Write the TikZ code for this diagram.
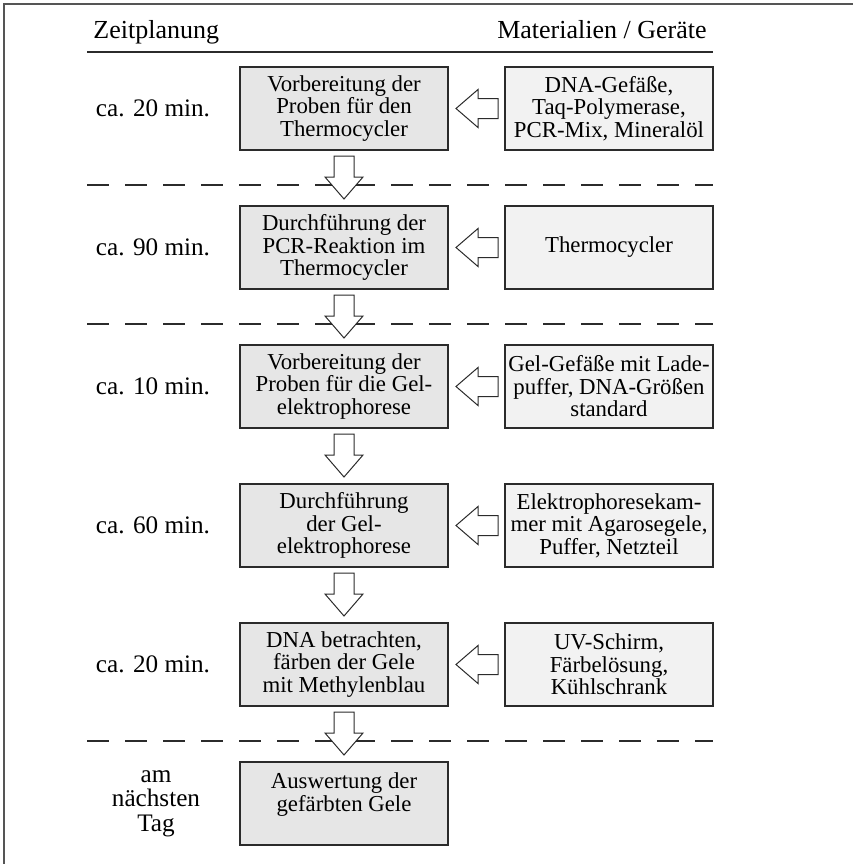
\documentclass[tikz,border=0pt]{standalone}
\usepackage{fontspec}
\setmainfont{Liberation Serif}
\usetikzlibrary{calc}
\definecolor{rahmen}{HTML}{555555}
\definecolor{linie}{HTML}{2B2B2B}
\definecolor{schrittgrau}{HTML}{E6E6E6}
\definecolor{materialgrau}{HTML}{F2F2F2}
\tikzset{
  every picture/.style={x=0.5pt, y=-0.5pt},
  schritt/.style={draw=linie, fill=schrittgrau, line width=1pt, minimum width=104pt,
              minimum height=41.5pt, inner sep=0pt, align=center,
              font=\fontsize{11.4}{11.25}\selectfont},
  material/.style={schritt, fill=materialgrau},
  zeit/.style={align=center, inner sep=0pt, font=\fontsize{12.6}{12.2}\selectfont},
  kopf/.style={inner sep=0pt, font=\fontsize{13}{13}\selectfont},
  trenner/.style={draw=linie, line width=1pt, dash pattern=on 11pt off 8pt},
  blockpfeil/.style={draw=linie, fill=white, line width=0.5pt, line join=miter},
}
% hohler Blockpfeil nach unten: #1 oberer Kasten, #2 unterer Kasten
\newcommand{\pfeilab}[2]{%
  \draw[blockpfeil] let \p1=($(#1.south)+(0,5)$), \p2=($(#2.north)+(0,-6)$) in
    (\x1-5pt,\y1) -- (\x1+5pt,\y1) -- (\x1+5pt,\y2+11pt) -- (\x1+9.5pt,\y2+11pt)
    -- (\x1,\y2) -- (\x1-9.5pt,\y2+11pt) -- (\x1-5pt,\y2+11pt) -- cycle;}
% hohler Blockpfeil nach links: #1 Material, #2 Arbeitsschritt
\newcommand{\pfeillinks}[2]{%
  \draw[blockpfeil] let \p1=($(#1.west)+(-6,0)$), \p2=($(#2.east)+(7,0)$) in
    (\x1,\y1-5pt) -- (\x1,\y1+5pt) -- (\x2+11pt,\y1+5pt) -- (\x2+11pt,\y1+9.5pt)
    -- (\x2,\y1) -- (\x2+11pt,\y1-9.5pt) -- (\x2+11pt,\y1-5pt) -- cycle;}

\begin{document}
\begin{tikzpicture}
  \useasboundingbox (0,0) rectangle (853,864);
  \draw[rahmen, line width=1pt] (4,864) -- (4,4) -- (853,4);
  % Kopfzeile
  \node[kopf, anchor=base west] (kz) at (93,38) {Zeitplanung};
  \node[kopf, anchor=base east] (km) at (707,38) {Materialien / Geräte};
  \draw[linie, line width=0.9pt] (87,52) -- (713,52);
  % Trennlinien
  \foreach \ty in {185,324,741}
    \draw[trenner] (87,\ty) -- (713,\ty);
  % Arbeitsschritte
  \node[schritt] (s1) at (344,108.5) {Vorbereitung der\\Proben für den\\Thermocycler};
  \node[schritt] (s2) at (344,247.5) {Durchführung der\\PCR-Reaktion im\\Thermocycler};
  \node[schritt] (s3) at (344,386.5) {Vorbereitung der\\Proben für die Gel-\\elektrophorese};
  \node[schritt] (s4) at (344,525.5) {Durchführung\\der Gel-\\elektrophorese};
  \node[schritt] (s5) at (344,664.5) {DNA betrachten,\\färben der Gele\\mit Methylenblau};
  \node[schritt] (s6) at (344,803.5) {Auswertung der\\gefärbten Gele\\~};
  % Materialien
  \node[material] (m1) at (609,108.5) {DNA-Gefäße,\\Taq-Polymerase,\\PCR-Mix, Mineralöl};
  \node[material] (m2) at (609,247.5) {Thermocycler};
  \node[material] (m3) at (609,386.5) {Gel-Gefäße mit Lade-\\puffer, DNA-Größen\\standard};
  \node[material] (m4) at (609,525.5) {Elektrophoresekam-\\mer mit Agarosegele,\\Puffer, Netzteil};
  \node[material] (m5) at (609,664.5) {UV-Schirm,\\Färbelösung,\\Kühlschrank};
  % Zeitplanung
  \node[zeit] (z1) at (153,108.5) {ca. 20 min.};
  \node[zeit] (z2) at (153,247.5) {ca. 90 min.};
  \node[zeit] (z3) at (153,386.5) {ca. 10 min.};
  \node[zeit] (z4) at (153,525.5) {ca. 60 min.};
  \node[zeit] (z5) at (153,664.5) {ca. 20 min.};
  \node[zeit] (z6) at (156,803.5) {am\\nächsten\\Tag};
  % Pfeile
  \foreach \a/\b in {s1/s2,s2/s3,s3/s4,s4/s5,s5/s6}
    \pfeilab{\a}{\b};
  \foreach \i in {1,...,5}
    \pfeillinks{m\i}{s\i};
\end{tikzpicture}
\end{document}
